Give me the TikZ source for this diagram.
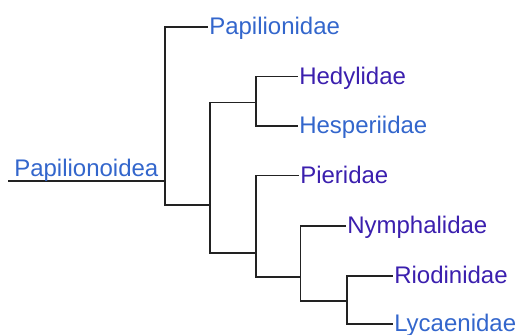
\documentclass[tikz,border=0pt]{standalone}
\usepackage{fontspec}
\setmainfont{Liberation Sans}
\definecolor{linkblue}{HTML}{3366CC}
\definecolor{linkpurple}{HTML}{3B1FAE}
\definecolor{branchcol}{HTML}{222222}
\begin{document}
\begin{tikzpicture}[x=0.75pt,y=-0.75pt,
  branch/.style={draw=branchcol,line width=1.3pt},
  leaf/.style={anchor=base west,inner sep=0pt,font=\fontsize{18}{20}\selectfont},
  bluelink/.style={text=linkblue},
  purplelink/.style={text=linkpurple}]
\useasboundingbox (0,0) rectangle (517,335);
% junctions and tips
\coordinate (r0) at (8,181);
\coordinate (n1) at (165,181);
\coordinate (tPap) at (208,27);
\coordinate (n2) at (210,205);
\coordinate (n3) at (256,102.5);
\coordinate (tHed) at (298,76.5);
\coordinate (tHes) at (298,126);
\coordinate (n4) at (256,253);
\coordinate (tPie) at (299,175.5);
\coordinate (n5) at (300.5,277);
\coordinate (tNym) at (346,226);
\coordinate (n6) at (347,301);
\coordinate (tRio) at (393,276);
\coordinate (tLyc) at (393,324);
% branches
\draw[branch] (r0) -- (n1);
\draw[branch] (n1) |- (tPap);
\draw[branch] (n1) |- (n2);
\draw[branch] (n2) |- (n3);
\draw[branch] (n2) |- (n4);
\draw[branch] (n3) |- (tHed);
\draw[branch] (n3) |- (tHes);
\draw[branch] (n4) |- (tPie);
\draw[branch] (n4) |- (n5);
\draw[branch] (n5) |- (tNym);
\draw[branch] (n5) |- (n6);
\draw[branch] (n6) |- (tRio);
\draw[branch] (n6) |- (tLyc);
% labels
\node[leaf,bluelink] (Root) at (14,176) {Papilionoidea};
\node[leaf,bluelink] (Pap) at ([shift={(1,7.6)}]tPap) {Papilionidae};
\node[leaf,purplelink] (Hed) at ([shift={(1,7.6)}]tHed) {Hedylidae};
\node[leaf,bluelink] (Hes) at ([shift={(1,7.6)}]tHes) {Hesperiidae};
\node[leaf,purplelink] (Pie) at ([shift={(1,7.6)}]tPie) {Pieridae};
\node[leaf,purplelink] (Nym) at ([shift={(1,7.6)}]tNym) {Nymphalidae};
\node[leaf,purplelink] (Rio) at ([shift={(1,7.6)}]tRio) {Riodinidae};
\node[leaf,bluelink] (Lyc) at ([shift={(1,7.6)}]tLyc) {Lycaenidae};
\end{tikzpicture}
\end{document}
